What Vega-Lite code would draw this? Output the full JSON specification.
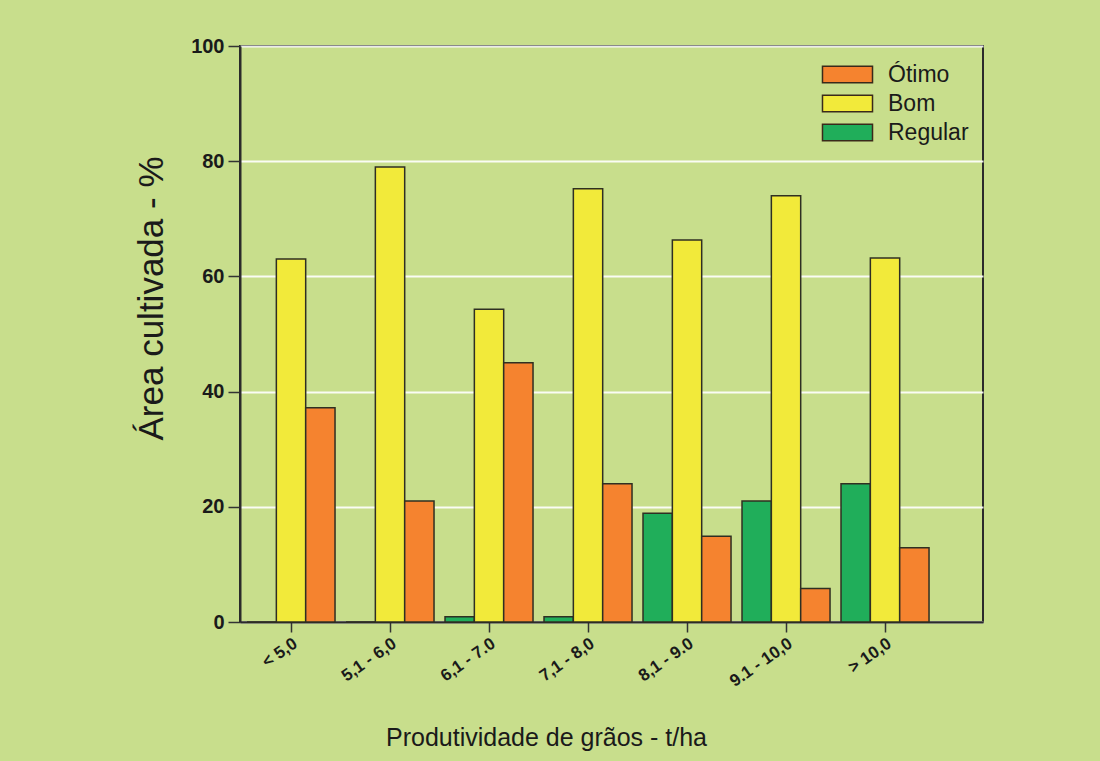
{
  "$schema": "https://vega.github.io/schema/vega-lite/v6.json",
  "autosize": "none",
  "width": 743,
  "height": 576,
  "padding": {"left": 240, "top": 46, "right": 117, "bottom": 139},
  "background": "#c8de8c",
  "config": {
    "view": {"stroke": "#2b2b2b", "strokeWidth": 2, "fill": "#c8de8c"},
    "font": "Liberation Sans"
  },
  "data": {
    "values": [
      {"classe": "< 5,0", "nivel": "Regular", "area": 0},
      {"classe": "< 5,0", "nivel": "Bom", "area": 63},
      {"classe": "< 5,0", "nivel": "Ótimo", "area": 37.2},
      {"classe": "5,1 - 6,0", "nivel": "Regular", "area": 0},
      {"classe": "5,1 - 6,0", "nivel": "Bom", "area": 79},
      {"classe": "5,1 - 6,0", "nivel": "Ótimo", "area": 21},
      {"classe": "6,1 - 7.0", "nivel": "Regular", "area": 0.9},
      {"classe": "6,1 - 7.0", "nivel": "Bom", "area": 54.3},
      {"classe": "6,1 - 7.0", "nivel": "Ótimo", "area": 45},
      {"classe": "7,1 - 8,0", "nivel": "Regular", "area": 0.9},
      {"classe": "7,1 - 8,0", "nivel": "Bom", "area": 75.2},
      {"classe": "7,1 - 8,0", "nivel": "Ótimo", "area": 24},
      {"classe": "8,1 - 9.0", "nivel": "Regular", "area": 18.9},
      {"classe": "8,1 - 9.0", "nivel": "Bom", "area": 66.3},
      {"classe": "8,1 - 9.0", "nivel": "Ótimo", "area": 14.9},
      {"classe": "9.1 - 10,0", "nivel": "Regular", "area": 21},
      {"classe": "9.1 - 10,0", "nivel": "Bom", "area": 74},
      {"classe": "9.1 - 10,0", "nivel": "Ótimo", "area": 5.8},
      {"classe": "> 10,0", "nivel": "Regular", "area": 24},
      {"classe": "> 10,0", "nivel": "Bom", "area": 63.2},
      {"classe": "> 10,0", "nivel": "Ótimo", "area": 12.9}
    ]
  },
  "mark": {"type": "bar", "stroke": "#2f2f22", "strokeWidth": 1.5},
  "encoding": {
    "x": {
      "field": "classe",
      "type": "nominal",
      "sort": null,
      "scale": {"paddingInner": 0.111, "paddingOuter": 0.308, "align": 0.115},
      "axis": {
        "title": "Produtividade de grãos - t/ha",
        "titleFontSize": 25,
        "titleFontWeight": "normal",
        "titleColor": "#1a1a1a",
        "titleX": 306,
        "titleY": 123,
        "titleBaseline": "alphabetic",
        "labelAngle": -35,
        "labelAlign": "right",
        "labelBaseline": "top",
        "labelFontSize": 17,
        "labelFontWeight": "bold",
        "labelColor": "#1a1a1a",
        "labelPadding": 3,
        "tickSize": 10,
        "tickColor": "#333333",
        "tickWidth": 1.5,
        "domainColor": "#2b2b2b",
        "domainWidth": 2,
        "grid": false
      }
    },
    "xOffset": {"field": "nivel", "sort": ["Regular", "Bom", "Ótimo"], "scale": {"paddingInner": 0}},
    "y": {
      "field": "area",
      "type": "quantitative",
      "scale": {"domain": [0, 100]},
      "axis": {
        "title": "Área cultivada - %",
        "titleFontSize": 35,
        "titleFontWeight": "normal",
        "titleColor": "#1a1a1a",
        "titleX": -78,
        "titleY": 252,
        "titleAlign": "center",
        "titleBaseline": "alphabetic",
        "values": [0, 20, 40, 60, 80, 100],
        "labelFontSize": 20,
        "labelFontWeight": "bold",
        "labelColor": "#1a1a1a",
        "labelPadding": 4,
        "tickSize": 12,
        "tickColor": "#333333",
        "tickWidth": 1.5,
        "domainColor": "#2b2b2b",
        "domainWidth": 2,
        "gridColor": "#ffffff",
        "gridWidth": 2,
        "gridOpacity": 0.9
      }
    },
    "color": {
      "field": "nivel",
      "type": "nominal",
      "scale": {"domain": ["Ótimo", "Bom", "Regular"], "range": ["#f5832f", "#f2ea3a", "#20ae5a"]},
      "legend": {
        "title": null,
        "orient": "none",
        "legendX": 596,
        "legendY": 17,
        "symbolType": "M-3,-1H3V1H-3Z",
        "symbolSize": 278,
        "symbolStrokeColor": "#3a2a1a",
        "symbolStrokeWidth": 1.5,
        "symbolOpacity": 1,
        "labelFontSize": 23,
        "labelColor": "#1a1a1a",
        "labelOffset": 29,
        "rowPadding": 5
      }
    }
  }
}
